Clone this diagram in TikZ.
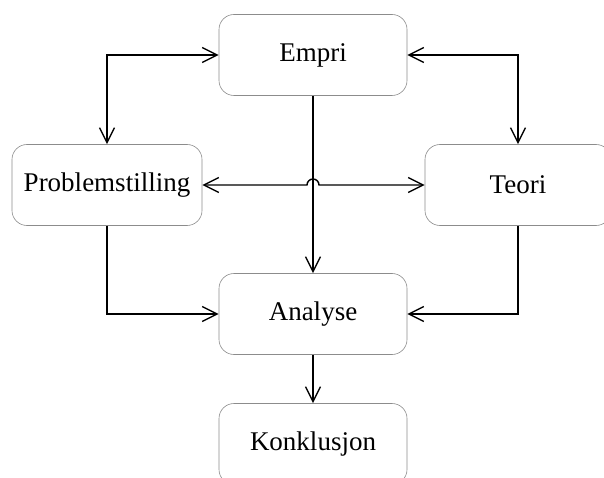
\documentclass[tikz,border=0pt]{standalone}
\usepackage{fontspec}
\setmainfont{Liberation Serif}
\usetikzlibrary{arrows.meta,calc}
\begin{document}
\begin{tikzpicture}[x=1pt,y=1pt,
  stage/.style={draw=black!45, line width=0.6pt, fill=white, rounded corners=15pt,
    minimum width=188pt, minimum height=81pt, inner sep=0pt,
    font=\fontsize{27}{32}\selectfont},
  link/.style={draw=black, line width=1.4pt,
    arrows={-Straight Barb[length=15pt,width=15pt,line width=1.4pt]}},
  twoway/.style={link, arrows={Straight Barb[length=15pt,width=15pt,line width=1.4pt]-Straight Barb[length=15pt,width=15pt,line width=1.4pt]}}]
\useasboundingbox (0,0) rectangle (604,477);
\clip (0,0) rectangle (604,477);
\fill[white] (0,0) rectangle (604,477);

\node[stage] (emp)   at (313,422) {Empri};
\node[stage, minimum width=190pt] (prob) at (107,292) {Problemstilling};
\node[stage, minimum width=186pt] (teori) at (518,292) {Teori};
\node[stage] (ana)   at (313,163) {Analyse};
\node[stage] (konk)  at (313,33)  {Konklusjon};

% links between the stages
\draw[twoway] (emp.west) -| (prob.north);
\draw[twoway] (emp.east) -| (teori.north);
\draw[link] (emp.south) -- (ana.north);
\coordinate (hop) at (emp.south |- prob.east);
\draw[twoway] (prob.east) -- ($(hop)+(-6,0)$) arc[start angle=180,end angle=0,radius=6pt] -- (teori.west);
\draw[link] (prob.south) |- (ana.west);
\draw[link] (teori.south) |- (ana.east);
\draw[link] (ana.south) -- (konk.north);
\end{tikzpicture}
\end{document}
